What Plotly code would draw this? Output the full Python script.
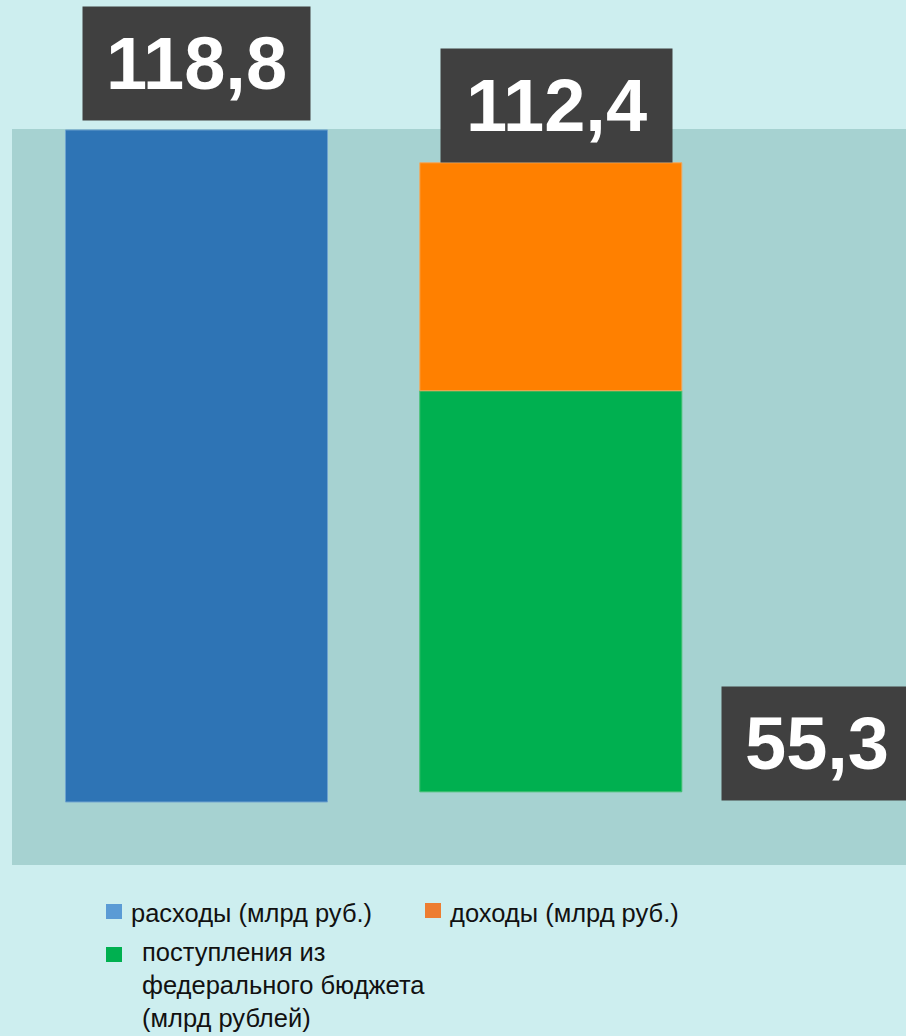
import plotly.graph_objects as go

# ---- data ----
bar_positions = [0, 1]
expenses = [118.8]            # расходы, blue bar
federal_part = [70.9]         # поступления из федерального бюджета (green segment)
revenue_part = [40.3]         # доходы (orange segment above green)
stack_base = [1.8]
value_labels = ["118,8", "112,4", "55,3"]
legend_texts = ["расходы (млрд руб.)", "доходы (млрд руб.)",
                "поступления из<br>федерального бюджета<br>(млрд рублей)"]

W, H = 906, 1036
ML, MR, MT, MB = 12, 0, 129, 171
PW, PH = W - ML - MR, H - MT - MB


def px(x):
    return (x - ML) / PW


def py(y):
    return (H - MB - y) / PH


BAR_W = 0.7395
fig = go.Figure()
fig.add_trace(go.Bar(x=[bar_positions[0]], y=expenses, base=[0], width=BAR_W,
                     marker=dict(color="#2E74B5", line=dict(color="#6FA3CF", width=1)),
                     showlegend=False, hoverinfo="skip"))
fig.add_trace(go.Bar(x=[bar_positions[1]], y=federal_part, base=stack_base, width=BAR_W,
                     marker=dict(color="#00B050", line=dict(color="#3FBF70", width=1)),
                     showlegend=False, hoverinfo="skip"))
fig.add_trace(go.Bar(x=[bar_positions[1]], y=revenue_part,
                     base=[stack_base[0] + federal_part[0]], width=BAR_W,
                     marker=dict(color="#FF8000", line=dict(color="#F0A860", width=1)),
                     showlegend=False, hoverinfo="skip"))

box_font = dict(family="Liberation Sans, Arial, sans-serif", size=74, color="white")
BOX = "#404040"
fig.add_annotation(x=bar_positions[0], y=expenses[0], xref="x", yref="y",
                   text="<b>%s</b>" % value_labels[0], showarrow=False,
                   xanchor="center", yanchor="bottom", yshift=9,
                   width=227, height=113, borderpad=0, bgcolor=BOX, font=box_font)
fig.add_annotation(x=bar_positions[1], y=stack_base[0] + federal_part[0] + revenue_part[0],
                   xref="x", yref="y", xshift=6,
                   text="<b>%s</b>" % value_labels[1], showarrow=False,
                   xanchor="center", yanchor="bottom", yshift=0,
                   width=231, height=113, borderpad=0, bgcolor=BOX, font=box_font)
fig.add_annotation(x=px(721), y=py(743.5), xref="paper", yref="paper",
                   text="<b>%s</b>" % value_labels[2], showarrow=False,
                   xanchor="left", yanchor="middle",
                   width=190, height=113, borderpad=0, bgcolor=BOX, font=box_font)

# ---- legend (manual) ----
leg_font = dict(family="Liberation Sans Narrow, Arial Narrow, Liberation Sans, sans-serif",
                size=25.5, color="#111111")
swatches = [("#5B9BD5", 106, 904), ("#ED7D31", 425, 903), ("#00B050", 106, 947)]
for col, x0, y0 in swatches:
    fig.add_shape(type="rect", xref="paper", yref="paper",
                  x0=px(x0), x1=px(x0 + 16), y0=py(y0), y1=py(y0 + 15),
                  fillcolor=col, line=dict(width=0))
fig.add_annotation(x=px(129), y=py(913), xref="paper", yref="paper", text=legend_texts[0],
                   showarrow=False, xanchor="left", yanchor="middle", font=leg_font)
fig.add_annotation(x=px(448), y=py(913), xref="paper", yref="paper", text=legend_texts[1],
                   showarrow=False, xanchor="left", yanchor="middle", font=leg_font)
fig.add_annotation(x=px(140), y=py(936), xref="paper", yref="paper", text=legend_texts[2],
                   showarrow=False, xanchor="left", yanchor="top", align="left", font=leg_font)

fig.update_layout(
    width=W, height=H, autosize=False,
    margin=dict(l=ML, r=MR, t=MT, b=MB, pad=0),
    paper_bgcolor="#CDEEEF", plot_bgcolor="#A6D2D1",
    barmode="overlay",
    xaxis=dict(range=[-0.5207, 2.0025], visible=False, fixedrange=True),
    yaxis=dict(range=[-11.14, 118.97], visible=False, fixedrange=True),
)
fig.write_html("out.html", config={"displayModeBar": False},
               post_script="document.body.style.margin='0';document.body.style.overflow='hidden';")
